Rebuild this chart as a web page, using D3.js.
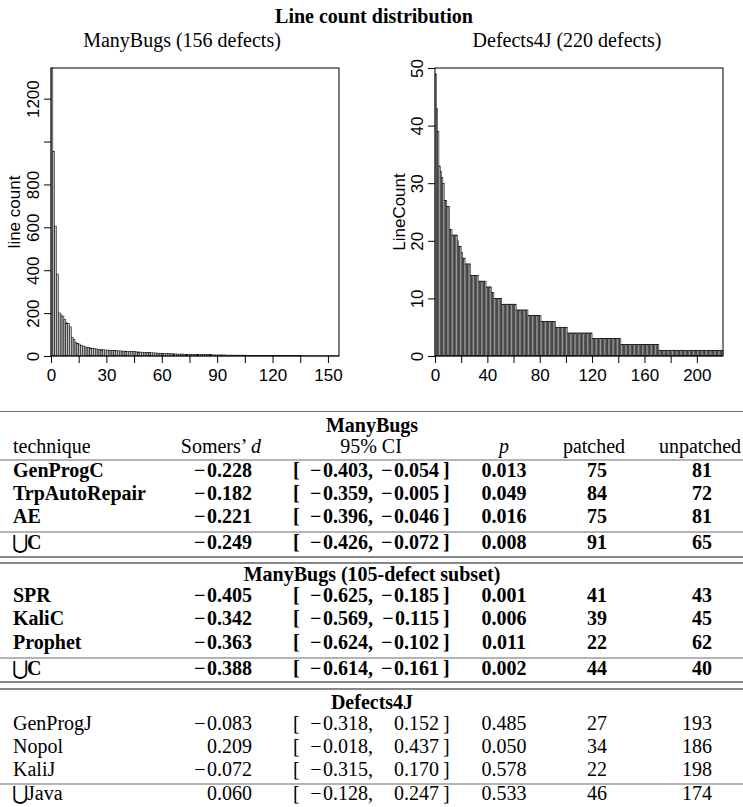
<!DOCTYPE html>
<html><head><meta charset="utf-8">
<script src="https://cdn.jsdelivr.net/npm/d3@7"></script>
<style>
html,body{margin:0;padding:0;background:#fff;}
svg{display:block;}
</style></head><body>
<svg id="c" width="743" height="807"></svg>
<script>
// ---------------- data ----------------
const chartTitle = "Line count distribution";
const panelTitles = ["ManyBugs (156 defects)", "Defects4J (220 defects)"];
const yAxisTitles = ["line count", "LineCount"];

const manyBugsLineCounts = [
  1343,953,606,382,201,192,186,171,155,152,
  136,87,78,62,59,56,50,47,43,41,
  39,37,35,34,33,31,30,29,29,28,
  28,27,26,26,25,25,24,24,23,23,
  22,22,21,21,20,20,19,19,18,18,
  17,17,16,16,15,15,14,14,13,13,
  12,12,11,11,11,10,10,10,9,9,
  9,9,8,8,8,8,7,7,7,7,
  7,6,6,6,6,6,6,5,5,5,
  5,5,5,5,5,4,4,4,4,4,
  4,4,4,4,4,4,3,3,3,3,
  3,3,3,3,3,3,3,3,3,3,
  2,2,2,2,2,2,2,2,2,2,
  2,2,2,2,2,2,1,1,1,1,
  1,1,1,1,1,1,1,1,1,1,
  1,1,1,1,1,1
];
const defects4jLineCounts = [
  49,43,39,33,32,31,30,27,27,26,
  26,22,22,21,21,21,21,20,19,19,
  18,17,17,16,16,16,16,14,14,14,
  14,14,14,13,13,13,13,13,13,12,
  12,12,12,11,11,10,10,10,10,10,
  10,9,9,9,9,9,9,9,9,9,
  9,9,8,8,8,8,8,8,8,8,
  8,7,7,7,7,7,7,7,7,7,
  7,6,6,6,6,6,6,6,6,6,
  6,6,5,5,5,5,5,5,5,5,
  5,4,4,4,4,4,4,4,4,4,
  4,4,4,4,4,4,4,4,4,4,
  3,3,3,3,3,3,3,3,3,3,
  3,3,3,3,3,3,3,3,3,3,
  3,3,2,2,2,2,2,2,2,2,
  2,2,2,2,2,2,2,2,2,2,
  2,2,2,2,2,2,2,2,2,2,
  2,1,1,1,1,1,1,1,1,1,
  1,1,1,1,1,1,1,1,1,1,
  1,1,1,1,1,1,1,1,1,1,
  1,1,1,1,1,1,1,1,1,1,
  1,1,1,1,1,1,1,1,1,1
];

const mbXTicks  = [0,15,30,45,60,75,90,105,120,135,150];
const mbXLabels = ["0","","30","","60","","90","","120","","150"];
const mbYTicks  = [0,200,400,600,800,1000,1200];
const mbYLabels = ["0","200","400","600","800","","1200"];
const d4jXTicks  = [0,20,40,60,80,100,120,140,160,180,200];
const d4jXLabels = ["0","","40","","80","","120","","160","","200"];
const d4jYTicks  = [0,10,20,30,40,50];
const d4jYLabels = ["0","10","20","30","40","50"];
const d4jYMax = 50;

const tableColumns = ["technique", "Somers’ ", "95% CI", "p", "patched", "unpatched"];
const sectionTitles = ["ManyBugs", "ManyBugs (105-defect subset)", "Defects4J"];
// technique, Somers' d, CI low, CI high, p, patched, unpatched
const manyBugsRows = [
  ["GenProgC", -0.228, -0.403, -0.054, 0.013, 75, 81],
  ["TrpAutoRepair", -0.182, -0.359, -0.005, 0.049, 84, 72],
  ["AE", -0.221, -0.396, -0.046, 0.016, 75, 81],
  ["⋃C", -0.249, -0.426, -0.072, 0.008, 91, 65]
];
const subsetRows = [
  ["SPR", -0.405, -0.625, -0.185, 0.001, 41, 43],
  ["KaliC", -0.342, -0.569, -0.115, 0.006, 39, 45],
  ["Prophet", -0.363, -0.624, -0.102, 0.011, 22, 62],
  ["⋃C", -0.388, -0.614, -0.161, 0.002, 44, 40]
];
const defects4jRows = [
  ["GenProgJ", -0.083, -0.318, 0.152, 0.485, 27, 193],
  ["Nopol", 0.209, -0.018, 0.437, 0.050, 34, 186],
  ["KaliJ", -0.072, -0.315, 0.170, 0.578, 22, 198],
  ["⋃Java", 0.060, -0.128, 0.247, 0.533, 46, 174]
];

// ---------------- drawing ----------------
const svg = d3.select("#c");
const SERIF = "'Liberation Serif','Times New Roman',serif";
const SANS = "'Liberation Sans',Arial,Helvetica,sans-serif";

svg.append("text").attr("x", 374).attr("y", 23).attr("text-anchor", "middle")
  .style("font-family", SERIF).style("font-size", "20px").style("font-weight", "bold")
  .text(chartTitle);

function drawPanel(opt) {
  const g = svg.append("g");
  const top = 68, bottom = 356;
  const x = d3.scaleLinear().domain([0, opt.data.length]).range([opt.left, opt.right]);
  const y = d3.scaleLinear().domain([0, opt.ymax]).range([bottom, top]);

  g.append("text").attr("x", opt.titleX).attr("y", 47).attr("text-anchor", "middle")
    .style("font-family", SERIF).style("font-size", "20px").text(opt.title);

  g.append("g").selectAll("rect").data(opt.data).join("rect")
    .attr("x", (d, i) => x(i)).attr("width", (d, i) => x(i + 1) - x(i))
    .attr("y", d => y(Math.min(d, opt.ymax))).attr("height", d => y(0) - y(Math.min(d, opt.ymax)))
    .attr("fill", "#bebebe").attr("stroke", "#000").attr("stroke-width", 0.5);

  g.append("rect").attr("x", opt.left).attr("y", top)
    .attr("width", opt.right - opt.left).attr("height", bottom - top)
    .attr("fill", "none").attr("stroke", "#000").attr("stroke-width", 1);

  const xa = g.append("g").attr("transform", `translate(0,${bottom})`)
    .call(d3.axisBottom(x).tickValues(opt.xTicks).tickFormat((d, i) => opt.xLabels[i]).tickSize(7));
  xa.select(".domain").remove();
  xa.selectAll("text").attr("y", 25).attr("dy", 0)
    .style("font-family", SANS).style("font-size", "17px").attr("fill", "#000");

  const ya = g.append("g").attr("transform", `translate(${opt.left},0)`)
    .call(d3.axisLeft(y).tickValues(opt.yTicks).tickFormat((d, i) => opt.yLabels[i]).tickSize(7));
  ya.select(".domain").remove();
  ya.selectAll("text").attr("x", 0).attr("dy", 0).attr("text-anchor", "middle")
    .attr("transform", `translate(-12,0) rotate(-90)`)
    .style("font-family", SANS).style("font-size", "17px").attr("fill", "#000");

  g.append("text").attr("transform", `translate(${opt.ylabX},212) rotate(-90)`)
    .attr("text-anchor", "middle")
    .style("font-family", SANS).style("font-size", "17px").text(opt.ylab);
}

drawPanel({data: manyBugsLineCounts, left: 51, right: 339, ymax: d3.max(manyBugsLineCounts),
  xTicks: mbXTicks, xLabels: mbXLabels, yTicks: mbYTicks, yLabels: mbYLabels,
  title: panelTitles[0], titleX: 182, ylab: yAxisTitles[0], ylabX: 20});
drawPanel({data: defects4jLineCounts, left: 435, right: 723, ymax: d4jYMax,
  xTicks: d4jXTicks, xLabels: d4jXLabels, yTicks: d4jYTicks, yLabels: d4jYLabels,
  title: panelTitles[1], titleX: 567, ylab: yAxisTitles[1], ylabX: 405});

// ---------------- table ----------------
const fmt = d3.format(".3f");
const tg = svg.append("g").style("font-family", SERIF).style("font-size", "20px");

function rule(y, color) {
  tg.append("line").attr("x1", 0).attr("x2", 743).attr("y1", y).attr("y2", y)
    .attr("stroke", color).attr("stroke-width", 1.2);
}
function txt(x, y, s, anchor, bold, italic) {
  return tg.append("text").attr("x", x).attr("y", y).attr("text-anchor", anchor || "start")
    .style("font-weight", bold ? "bold" : "normal").style("font-style", italic ? "italic" : "normal")
    .text(s);
}
// number with a slightly wider (TeX-like) minus sign
function num(x, y, s, anchor, bold) {
  const t = tg.append("text").attr("x", x).attr("y", y).attr("text-anchor", anchor)
    .style("font-weight", bold ? "bold" : "normal");
  if (s.startsWith("−")) {
    t.append("tspan").text("−");
    t.append("tspan").attr("dx", 1.5).text(s.slice(1));
  } else {
    t.text(s);
  }
  return t;
}
function row(r, y, bold) {
  const name = r[0];
  if (name.startsWith("⋃")) {
    const t = tg.append("text").attr("x", 12).attr("y", y);
    t.append("tspan").style("font-family", "'DejaVu Serif',serif").style("font-size", "20px").text("⋃");
    t.append("tspan").attr("dx", -1).style("font-weight", bold ? "bold" : "normal").text(name.slice(1));
  } else {
    txt(13, y, name, "start", bold);
  }
  num(252, y, fmt(r[1]), "end", bold);
  txt(293, y, "[", "start", bold);
  num(373, y, fmt(r[2]) + ",", "end", bold);
  num(439, y, fmt(r[3]), "end", bold);
  txt(443, y, "]", "start", bold);
  txt(504, y, fmt(r[4]), "middle", bold);
  txt(597, y, String(r[5]), "middle", bold);
  txt(712, y, String(r[6]), "end", bold);
}

const GREY = "#6a6a6a", BLACK = "#111";
rule(411.5, GREY);
txt(372, 432, sectionTitles[0], "middle", true);
txt(13, 453, tableColumns[0], "start");
const sh = txt(261, 453, tableColumns[1], "end");
sh.append("tspan").style("font-style", "italic").text("d");
txt(371, 453, tableColumns[2], "middle");
txt(504, 453, tableColumns[3], "middle", false, true);
txt(594, 453, tableColumns[4], "middle");
txt(700, 453, tableColumns[5], "middle");
rule(460, GREY);
manyBugsRows.slice(0, 3).forEach((r, i) => row(r, 477 + i * 23.2, true));
rule(532, GREY);
row(manyBugsRows[3], 549, true);
rule(557, BLACK); rule(563, BLACK);

txt(372, 581, sectionTitles[1], "middle", true);
subsetRows.slice(0, 3).forEach((r, i) => row(r, 602 + i * 23.3, true));
rule(658, GREY);
row(subsetRows[3], 675, true);
rule(682, BLACK); rule(689, BLACK);

txt(372, 709, sectionTitles[2], "middle", true);
defects4jRows.slice(0, 3).forEach((r, i) => row(r, 730 + i * 23, false));
rule(784, GREY);
row(defects4jRows[3], 800, false);
</script>
</body></html>
